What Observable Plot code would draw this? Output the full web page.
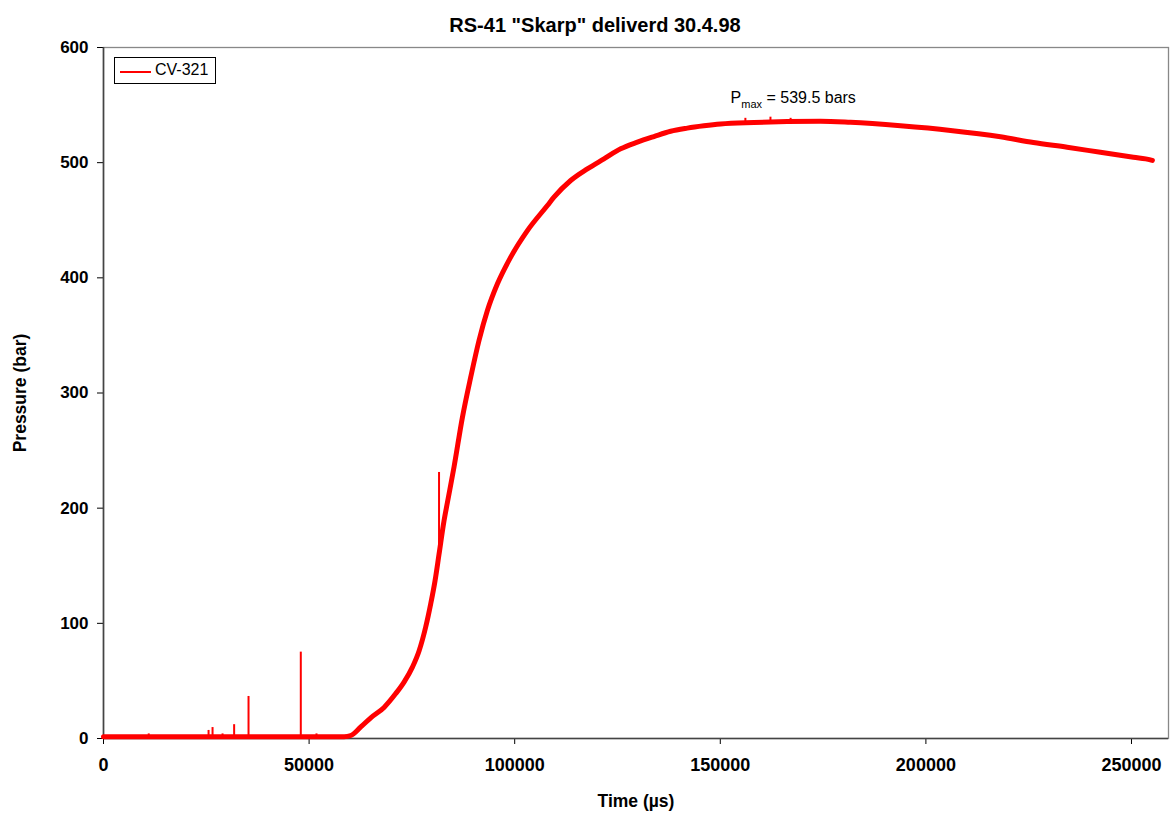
<!DOCTYPE html>
<html><head><meta charset="utf-8">
<script src="https://cdn.jsdelivr.net/npm/d3@7"></script>
<script src="https://cdn.jsdelivr.net/npm/@observablehq/plot@0.6"></script>
<style>
body{margin:0;background:#fff;font-family:"Liberation Sans",Arial,sans-serif}
#wrap{position:relative;width:1171px;height:814px}
#legend{position:absolute;left:114px;top:57px;width:102px;height:27px;border:1px solid #000;box-sizing:border-box;background:#fff;font-size:16px;color:#000}
#legend .sw{position:absolute;left:5px;top:13px;width:31px;height:0;border-top:2px solid #ff0000}
#legend .lb{position:absolute;left:40px;top:3px;line-height:18px}
svg g[aria-label="y-axis tick label"]{font-size:17px;font-weight:bold}
svg g[aria-label="x-axis tick label"]{font-size:18px;font-weight:bold}
svg g[aria-label="y-axis label"], svg g[aria-label="x-axis label"]{font-size:17.5px;font-weight:bold}
</style></head>
<body>
<div id="wrap"><div id="legend"><div class="sw"></div><div class="lb">CV-321</div></div></div>
<script>
const chartTitle = 'RS-41 "Skarp" deliverd 30.4.98';
const seriesName = "CV-321";
const xTicks = [0, 50000, 100000, 150000, 200000, 250000];
const yTicks = [0, 100, 200, 300, 400, 500, 600];

const timeUs = [0, 11000, 25000, 40000, 58500, 60140, 62570, 65000, 68230, 71070, 73090, 75130, 76740, 78370, 79580, 80630, 81600, 82810, 83640, 85240, 87290, 89300, 91320, 93360, 95800, 99030, 103090, 107950, 109550, 113610, 117670, 121710, 125770, 129830, 133860, 137920, 141980, 146010, 150070, 158170, 166290, 174380, 181670, 193820, 205980, 218130, 226150, 234350, 242440, 250460, 254590, 255080];
const pressureBar = [1.5, 1.5, 1.5, 1.5, 1.5, 2.6, 10, 18, 27, 39, 49, 62, 76, 97, 117, 137, 160, 189, 205, 235.6, 279, 313.7, 345.6, 371.6, 394.8, 418, 441, 462.8, 470, 484.5, 494.6, 503.3, 512, 517.8, 522.7, 527.3, 530, 532, 533.6, 534.9, 535.7, 536, 535, 532, 528, 522.5, 517.5, 513.4, 509, 504.7, 502.5, 502];

const spikeTimeUs = [11000, 25550, 26520, 28950, 31770, 35270, 47980, 51800, 81600, 156100, 162200, 167100];
const spikeBaseBar = [1.5, 1.5, 1.5, 1.5, 1.5, 1.5, 1.5, 1.5, 160, 535, 535.5, 535.7];
const spikePeakBar = [4, 7, 9.5, 4, 12, 36.5, 75, 4, 231, 538.5, 539.5, 538.5];

const pmaxTime = 152500, pmaxPressure = 556, pmaxLabel = "539.5 bars";

const curve = timeUs.map((t, i) => ({t, p: pressureBar[i]}));
const spikes = spikeTimeUs.map((t, i) => ({t, b: spikeBaseBar[i], p: spikePeakBar[i]}));

const chart = Plot.plot({
  width: 1171, height: 814,
  marginLeft: 103, marginRight: 3, marginTop: 47, marginBottom: 76,
  style: {fontFamily: '"Liberation Sans", Arial, sans-serif', background: "#fff", color: "#000"},
  x: {domain: [0, 259000]},
  y: {domain: [0, 600]},
  marks: [
    Plot.frame({stroke: "#888", strokeWidth: 1.3}),
    Plot.axisX({ticks: xTicks, tickSize: 6, tickPadding: 14, tickFormat: d => String(d), label: "Time (µs)", labelAnchor: "center", labelArrow: "none", labelOffset: 68}),
    Plot.axisY({ticks: yTicks, tickSize: 6, tickPadding: 9, tickFormat: d => String(d), label: "Pressure (bar)", labelAnchor: "center", labelArrow: "none", labelOffset: 90}),
    Plot.ruleY([0], {stroke: "#444", strokeWidth: 1.6}),
    Plot.ruleX([0], {stroke: "#444", strokeWidth: 1.6}),
    Plot.ruleX(spikes, {x: "t", y1: "b", y2: "p", stroke: "#ff0000", strokeWidth: 2}),
    Plot.line(curve, {x: "t", y: "p", stroke: "#ff0000", strokeWidth: 5, curve: "monotone-x"}),
    Plot.text([{t: pmaxTime, p: pmaxPressure}], {
      x: "t", y: "p", text: () => "P", textAnchor: "start", fontSize: 16,
      render(index, scales, values, dims, ctx, next) {
        const g = next(index, scales, values, dims, ctx);
        const tx = d3.select(g).select("text");
        tx.text(null);
        tx.append("tspan").text("P");
        tx.append("tspan").attr("font-size", 11).attr("dy", 5).text("max");
        tx.append("tspan").attr("dy", -5).text(" = " + pmaxLabel);
        return g;
      }
    }),
    Plot.text([chartTitle], {frameAnchor: "top", dy: -30, dx: -41, fontSize: 20, fontWeight: "bold"})
  ]
});
document.getElementById("wrap").prepend(chart);
document.querySelector("#legend .lb").textContent = seriesName;
</script>
</body></html>
